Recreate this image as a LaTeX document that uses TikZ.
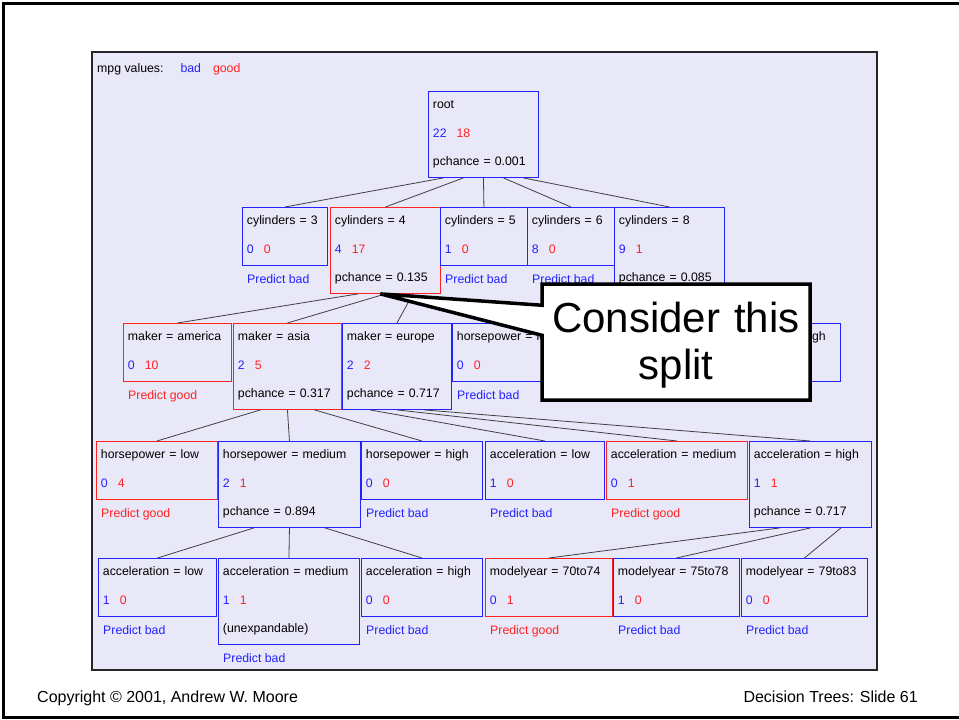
\documentclass[tikz,border=0pt]{standalone}
\usepackage{fontspec}
\setmainfont{Liberation Sans}
\usepackage{xcolor}
\definecolor{azul}{HTML}{2222FF}
\definecolor{rojo}{HTML}{FF2222}
\definecolor{lavanda}{HTML}{E8E8F8}
\usepackage{tikz}
\usetikzlibrary{shapes.callouts}
\newcommand{\cuenta}[2]{\textcolor{azul}{#1}\hspace{10pt}\textcolor{rojo}{#2}}

\begin{document}
\begin{tikzpicture}[
  x=1pt, y=-1pt,
  font=\fontsize{12.3}{28.5}\selectfont,
  caja/.style={rectangle, draw=azul, line width=0.9pt, anchor=north west, inner xsep=4.5pt, inner ysep=0pt, align=left, text height=17.5pt},
  hoja/.style={caja, text depth=40.5pt},
  rama/.style={caja, text depth=68.5pt},
  buena/.style={draw=rojo},
  malo/.style={anchor=base west, inner sep=0pt, text=azul},
  bueno/.style={anchor=base west, inner sep=0pt, text=rojo},
  arista/.style={draw=black!75, line width=0.8pt},
  aviso/.style={rectangle callout, draw=black, line width=3.5pt, fill=white, minimum width=268pt, minimum height=116pt, inner sep=0pt, text width=260pt, text height=48pt, text depth=68pt, callout pointer width=30pt, align=center, font=\fontsize{42}{47}\selectfont},
  pie/.style={inner sep=0pt, font=\fontsize{16}{18}\selectfont}
]
\useasboundingbox (0,0) rectangle (959,720);
\draw[line width=3pt] (965,3) -- (3,3) -- (3,717) -- (965,717);
\draw[fill=lavanda, draw=black!85, line width=1.2pt] (92,52) rectangle (877,670);
\node[anchor=base west, inner sep=0pt] (leyenda) at (97,72) {mpg values:\hspace{17pt}\textcolor{azul}{bad}\hspace{12pt}\textcolor{rojo}{good}};
\node[rama, text width=101pt] (root) at (428,91) {root\\\cuenta{22}{18}\\pchance = 0.001};
\node[hoja, text width=76pt] (c3) at (242,207) {cylinders = 3\\\cuenta{0}{0}};
\node[rama, buena, text width=101pt] (c4) at (330,207) {cylinders = 4\\\cuenta{4}{17}\\pchance = 0.135};
\node[hoja, text width=78pt] (c5) at (440,207) {cylinders = 5\\\cuenta{1}{0}};
\node[hoja, text width=78pt] (c6) at (527,207) {cylinders = 6\\\cuenta{8}{0}};
\node[rama, text width=101pt] (c8) at (614,207) {cylinders = 8\\\cuenta{9}{1}\\pchance = 0.085};
\node[malo] (p3) at ([xshift=5pt, yshift=-17.5pt]c3.south west) {Predict bad};
\node[malo] (p5) at ([xshift=5pt, yshift=-17.5pt]c5.south west) {Predict bad};
\node[malo] (p6) at ([xshift=5pt, yshift=-17.5pt]c6.south west) {Predict bad};
\node[hoja, buena, text width=99pt] (mam) at (123,323) {maker = america\\\cuenta{0}{10}};
\node[rama, buena, text width=99pt] (mas) at (233,323) {maker = asia\\\cuenta{2}{5}\\pchance = 0.317};
\node[rama, text width=100pt] (meu) at (342,323) {maker = europe\\\cuenta{2}{2}\\pchance = 0.717};
\node[hoja, text width=112pt] (h8l) at (452,323) {horsepower = low\\\cuenta{0}{0}};
\node[hoja, text width=113pt] (h8h) at (718,323) {horsepower = high\\\cuenta{9}{0}};
\node[bueno] (pam) at ([xshift=5pt, yshift=-17.5pt]mam.south west) {Predict good};
\node[malo] (ph8l) at ([xshift=5pt, yshift=-17.5pt]h8l.south west) {Predict bad};
\node[hoja, buena, text width=112pt] (h1l) at (96,441) {horsepower = low\\\cuenta{0}{4}};
\node[rama, text width=133pt] (h1m) at (218,441) {horsepower = medium\\\cuenta{2}{1}\\pchance = 0.894};
\node[hoja, text width=112pt] (h1h) at (361,441) {horsepower = high\\\cuenta{0}{0}};
\node[hoja, text width=110pt] (e1l) at (485,441) {acceleration = low\\\cuenta{1}{0}};
\node[hoja, buena, text width=132pt] (e1m) at (606,441) {acceleration = medium\\\cuenta{0}{1}};
\node[rama, text width=113pt] (e1h) at (749,441) {acceleration = high\\\cuenta{1}{1}\\pchance = 0.717};
\node[bueno] (ph1l) at ([xshift=5pt, yshift=-17.5pt]h1l.south west) {Predict good};
\node[malo] (ph1h) at ([xshift=5pt, yshift=-17.5pt]h1h.south west) {Predict bad};
\node[malo] (pe1l) at ([xshift=5pt, yshift=-17.5pt]e1l.south west) {Predict bad};
\node[bueno] (pe1m) at ([xshift=5pt, yshift=-17.5pt]e1m.south west) {Predict good};
\node[hoja, text width=109pt] (a2l) at (98,558) {acceleration = low\\\cuenta{1}{0}};
\node[rama, text width=132pt] (a2m) at (218,558) {acceleration = medium\\\cuenta{1}{1}\\(unexpandable)};
\node[hoja, text width=112pt] (a2h) at (361,558) {acceleration = high\\\cuenta{0}{0}};
\node[hoja, buena, text width=118pt] (y70) at (485,558) {modelyear = 70to74\\\cuenta{0}{1}};
\node[hoja, text width=117pt] (y75) at (613,558) {modelyear = 75to78\\\cuenta{1}{0}};
\node[hoja, text width=117pt] (y79) at (741,558) {modelyear = 79to83\\\cuenta{0}{0}};
\node[malo] (pa2l) at ([xshift=5pt, yshift=-17.5pt]a2l.south west) {Predict bad};
\node[malo] (pa2m) at ([xshift=5pt, yshift=-17.5pt]a2m.south west) {Predict bad};
\node[malo] (pa2h) at ([xshift=5pt, yshift=-17.5pt]a2h.south west) {Predict bad};
\node[bueno] (py70) at ([xshift=5pt, yshift=-17.5pt]y70.south west) {Predict good};
\node[malo] (py75) at ([xshift=5pt, yshift=-17.5pt]y75.south west) {Predict bad};
\node[malo] (py79) at ([xshift=5pt, yshift=-17.5pt]y79.south west) {Predict bad};
\draw[arista] ([xshift=-40pt]root.south) -- (c3.north);
\draw[arista] ([xshift=-20pt]root.south) -- (c4.north);
\draw[arista] (root.south) -- (c5.north);
\draw[arista] ([xshift=20pt]root.south) -- (c6.north);
\draw[arista] ([xshift=40pt]root.south) -- (c8.north);
\draw[arista] ([xshift=-27.5pt]c4.south) -- (mam.north);
\draw[arista] (c4.south) -- (mas.north);
\draw[arista] ([xshift=27.5pt]c4.south) -- (meu.north);
\draw[arista] ([xshift=-27pt]mas.south) -- (h1l.north);
\draw[arista] (mas.south) -- (h1m.north);
\draw[arista] ([xshift=27pt]mas.south) -- (h1h.north);
\draw[arista] ([xshift=-27pt]meu.south) -- (e1l.north);
\draw[arista] (meu.south) -- (e1m.north);
\draw[arista] ([xshift=27pt]meu.south) -- (e1h.north);
\draw[arista] ([xshift=-35.5pt]h1m.south) -- (a2l.north);
\draw[arista] (h1m.south) -- (a2m.north);
\draw[arista] ([xshift=35.5pt]h1m.south) -- (a2h.north);
\draw[arista] ([xshift=-30.5pt]e1h.south) -- (y70.north);
\draw[arista] (e1h.south) -- (y75.north);
\draw[arista] ([xshift=30.5pt]e1h.south) -- (y79.north);
\coordinate (punta) at ([xshift=-5pt]c4.south);
\node[aviso, callout absolute pointer=(punta)] (nota) at (676,342) {Consider this\\split};
\node[pie, anchor=base west] (copia) at (37,702) {Copyright © 2001, Andrew W. Moore};
\node[pie, anchor=base east] (diapo) at (918,702) {Decision Trees: Slide 61};
\end{tikzpicture}
\end{document}
